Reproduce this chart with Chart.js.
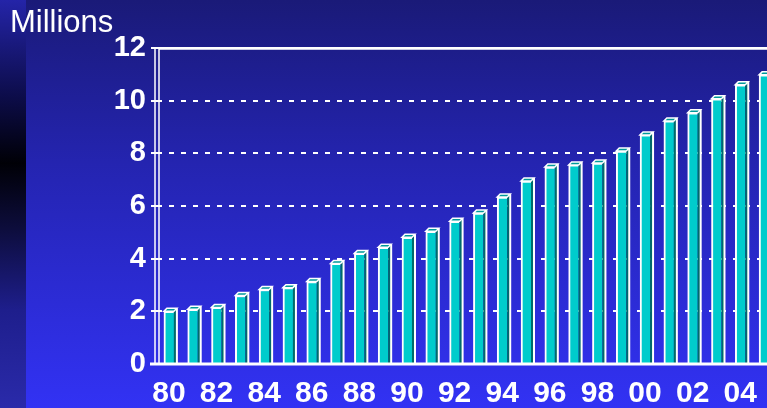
<!DOCTYPE html>
<html>
<head>
<meta charset="utf-8">
<script src="https://cdn.jsdelivr.net/npm/chart.js@4.4.1/dist/chart.umd.min.js"></script>
<style>
  html, body { margin: 0; padding: 0; }
  body {
    width: 767px; height: 408px; overflow: hidden; position: relative;
    background: linear-gradient(to bottom, #1a1a78 0%, #2424b0 40%, #3232f4 100%);
    font-family: "Liberation Sans", Arial, sans-serif;
  }
  #strip {
    position: absolute; left: 0; top: 0; width: 26px; height: 408px;
    background: linear-gradient(to bottom, #2424a8 0%, #0c0c48 24%, #000006 40%, #0d0d3c 56%, #1e1e8c 76%, #2a2aaa 100%);
  }
  #unit {
    position: absolute; left: 10px; top: 3px; color: #fff;
    font-size: 31px; line-height: 37px;
  }
  #wrap { position: absolute; left: 0; top: 0; width: 790px; height: 408px; }
</style>
</head>
<body>
<div id="strip"></div>
<div id="wrap"><canvas id="chart" width="790" height="408"></canvas></div>
<div id="unit">Millions</div>
<script>
// Data
const years = ["80", "81", "82", "83", "84", "85", "86", "87", "88", "89", "90", "91", "92",
  "93", "94", "95", "96", "97", "98", "99", "00", "01", "02", "03", "04", "05"];
const millions = [2.0, 2.08, 2.15, 2.6, 2.83, 2.9, 3.13, 3.82, 4.2, 4.43, 4.81, 5.04, 5.42,
  5.73, 6.34, 6.95, 7.48, 7.56, 7.63, 8.09, 8.7, 9.23, 9.54, 10.07, 10.6, 10.98];
const yTicks = [0, 2, 4, 6, 8, 10, 12];

// side and top faces for the 3d look
const bar3d = {
  id: "bar3d",
  afterDatasetsDraw(chart) {
    const ctx = chart.ctx;
    const d = 3, dy = 3;
    chart.getDatasetMeta(0).data.forEach((bar) => {
      const { x, y, base, width } = bar.getProps(["x", "y", "base", "width"], true);
      const r = x + width / 2, l = x - width / 2;
      ctx.save();
      // side
      ctx.beginPath();
      ctx.moveTo(r, y);
      ctx.lineTo(r + d, y - dy);
      ctx.lineTo(r + d, base);
      ctx.lineTo(r, base);
      ctx.closePath();
      ctx.fillStyle = "#006b6b";
      ctx.fill();
      ctx.strokeStyle = "#ffffff";
      ctx.lineWidth = 2;
      ctx.beginPath();
      ctx.moveTo(r + d, y - dy);
      ctx.lineTo(r + d, base);
      ctx.stroke();
      // top
      ctx.beginPath();
      ctx.moveTo(l, y);
      ctx.lineTo(l + d, y - dy);
      ctx.lineTo(r + d, y - dy);
      ctx.lineTo(r, y);
      ctx.closePath();
      ctx.fillStyle = "#009a9a";
      ctx.fill();
      ctx.lineWidth = 1.5;
      ctx.stroke();
      ctx.restore();
    });
  }
};

// axis lines: double y axis, top line, thick baseline
const frame = {
  id: "frame",
  afterDraw(chart) {
    const { ctx, chartArea: a } = chart;
    ctx.save();
    ctx.strokeStyle = "#ffffff";
    ctx.lineWidth = 1.5;
    ctx.beginPath();
    ctx.moveTo(a.left - 2, a.top); ctx.lineTo(a.left - 2, a.bottom);
    ctx.moveTo(a.left + 2, a.top); ctx.lineTo(a.left + 2, a.bottom);
    ctx.moveTo(a.left + 2, a.top + 1); ctx.lineTo(a.right, a.top + 1);
    ctx.stroke();
    ctx.lineWidth = 3;
    ctx.beginPath();
    ctx.moveTo(a.left - 7, a.bottom); ctx.lineTo(a.right, a.bottom);
    ctx.stroke();
    ctx.restore();
  }
};

new Chart(document.getElementById("chart"), {
  type: "bar",
  data: {
    labels: years,
    datasets: [{
      data: millions,
      backgroundColor: "#00cccc",
      borderColor: "#ffffff",
      borderWidth: { left: 2, top: 2, right: 0, bottom: 0 },
      borderSkipped: false,
      barThickness: 10,
    }],
  },
  options: {
    responsive: false,
    animation: false,
    events: [],
    layout: { padding: { top: 48, right: 14, left: 0, bottom: 0 } },
    plugins: { legend: { display: false }, tooltip: { enabled: false } },
    scales: {
      x: {
        grid: { display: false },
        border: { display: false },
        afterFit: (s) => { s.height = 44; },
        ticks: {
          color: "#ffffff",
          font: { family: "Liberation Sans", size: 30, weight: "bold" },
          autoSkip: false,
          maxRotation: 0,
          padding: 4,
          callback: (v, i) => (i % 2 === 0 ? years[i] : ""),
        },
      },
      y: {
        min: 0,
        max: 12,
        afterFit: (s) => { s.width = 157; },
        afterBuildTicks: (s) => { s.ticks = yTicks.map((v) => ({ value: v })); },
        border: {
          display: false,
          dash: (c) => (c.tick && c.tick.value === 12 ? [] : [5, 7]),
        },
        grid: {
          color: "#ffffff",
          lineWidth: (c) => (c.tick && c.tick.value === 0 ? 0 : 2),
          tickLength: 6,
          tickColor: "#ffffff",
          tickWidth: 2,
          tickBorderDash: [],
        },
        ticks: {
          color: "#ffffff",
          font: { family: "Liberation Sans", size: 29, weight: "bold" },
          padding: 5,
        },
      },
    },
  },
  plugins: [bar3d, frame],
});
</script>
</body>
</html>
